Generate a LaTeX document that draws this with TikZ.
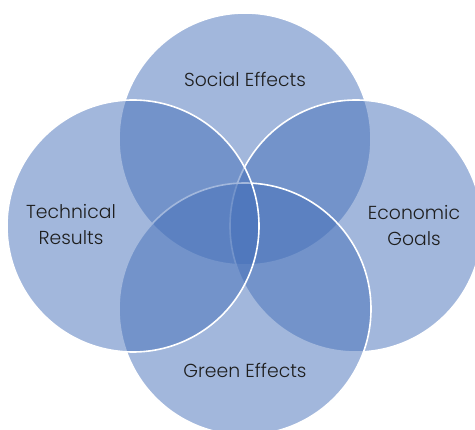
\documentclass[tikz,border=0pt]{standalone}
\usepackage{fontspec}
\newfontfamily\labfont{Poppins Light}
\definecolor{vennblue}{RGB}{70,113,186}
\definecolor{labtext}{RGB}{30,30,30}
\begin{document}
\begin{tikzpicture}[x=1pt,y=-1pt,
  venn/.style={circle, minimum size=252pt, inner sep=0pt, fill=vennblue, fill opacity=0.5, draw=white, line width=1.6pt},
  lab/.style={font=\labfont\fontsize{18.8}{26}\selectfont, text=labtext, align=center, inner sep=0pt}]
\useasboundingbox (0,0) rectangle (475,430);
\clip (0,0) rectangle (475,430);
\fill[white] (0,0) rectangle (475,430);
\node[venn] (top) at (245,139) {};
\node[venn] (right) at (356,226) {};
\node[venn] (bottom) at (245,309) {};
\node[venn] (left) at (133,226) {};
\node[lab] (tsoc) at (245,79) {Social Effects};
\node[lab] (ttech) at (71,225) {Technical\\Results};
\node[lab] (teco) at (414,226) {Economic\\Goals};
\node[lab] (tgreen) at (245,370) {Green Effects};
\end{tikzpicture}
\end{document}
